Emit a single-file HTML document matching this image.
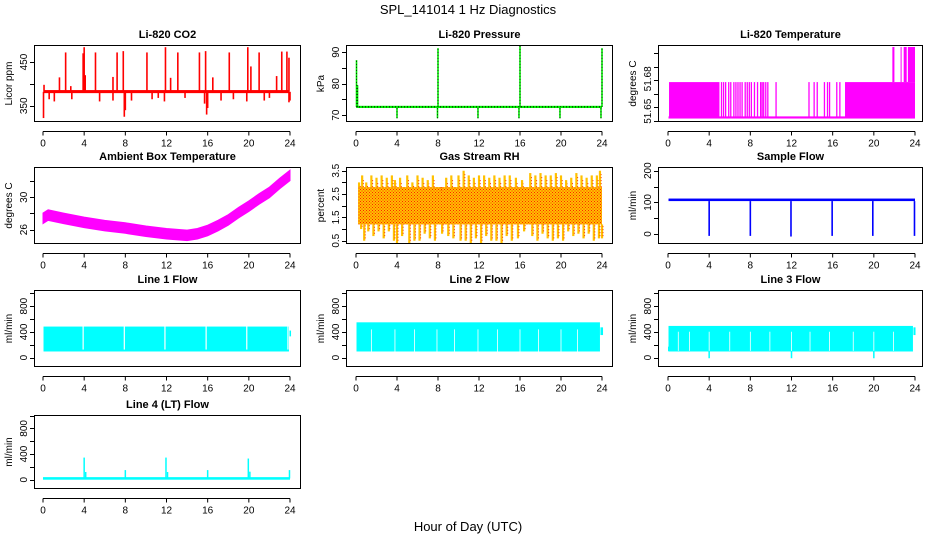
<!DOCTYPE html>
<html><head><meta charset="utf-8"><style>
html,body{margin:0;padding:0;background:#fff}
svg{display:block;font-family:"Liberation Sans",Arial,sans-serif}
</style></head><body>
<svg id="chart" width="936" height="540" viewBox="0 0 936 540">
<text x="468" y="14" text-anchor="middle" font-size="13">SPL_141014  1 Hz Diagnostics</text>
<text x="468" y="531" text-anchor="middle" font-size="13">Hour of Day (UTC)</text>
</svg>
<script>
// ---------- data ----------
const hourTicks = [0,4,8,12,16,20,24];
// CO2
const co2Base = 382;
const co2UpHours = [0.1,1.6,2.2,2.7,3.9,4.0,4.1,5.1,6.8,7.2,7.8,10.1,11.9,12.4,13.1,15.2,15.8,16.5,18.1,19.9,20.2,21.0,22.7,23.2,23.7,23.9];
const co2UpValues = [398,415,472,395,470,484,420,472,416,472,475,472,484,414,472,472,475,415,472,484,440,472,418,474,474,460];
const co2DownHours = [0.05,0.6,1.1,2.8,5.5,6.8,7.9,8.0,8.6,10.6,11.2,11.8,13.8,15.7,15.9,16.0,17.3,18.5,19.8,21.5,22.0,23.9,24.0];
const co2DownValues = [322,365,360,365,360,362,325,340,362,365,368,360,368,355,330,345,362,365,360,362,368,358,362];
// Pressure
const presBase = 72.6;
const presSpikeHours = [0.05,0.15,4.0,7.95,8.0,11.9,15.9,16.0,19.9,23.9,24.0];
const presSpikeLow = [72.6,72.6,69.0,69.0,72.6,69.0,69.0,72.6,69.0,69.0,72.6];
const presSpikeHigh = [87.5,79.5,72.6,72.6,91.3,72.6,72.6,92.0,72.6,72.6,91.3];
// Li-820 temperature
const tLow = 51.6462, tHigh = 51.6593, tTop = 51.6723;
const tBlockStart = [0.1,17.2];
const tBlockEnd = [5.0,24.0];
const tLineHours = [5.2,5.4,5.6,5.9,6.1,6.4,6.6,6.8,7.0,7.2,7.5,7.7,7.9,8.1,8.4,8.7,9.0,9.15,9.3,9.5,9.7,10.5,13.7,14.2,14.5,15.2,15.5,15.7,16.4,16.7];
const tTopStart = [21.8,22.6,22.9,23.3];
const tTopEnd = [22.0,22.7,23.2,24.0];
const tLabelValues = [51.6485,51.6605];
const tLabelText = ['51.65','51.68'];
// Ambient box temperature
const ambHours = [0,0.5,2,4,6,8,10,12,14,15,16,17,18,19,20,21,22,23,24];
const ambValues = [27.4,27.8,27.4,26.9,26.5,26.2,25.8,25.5,25.3,25.5,25.9,26.5,27.2,28.1,28.9,29.8,30.6,31.7,32.7];
// Gas stream RH
const rhHours = [0.3,0.6,1.0,1.5,2.0,2.5,3.0,3.5,3.8,4.3,5.0,5.5,6.0,6.5,7.0,7.5,8.2,8.8,9.3,10.0,10.5,11.0,11.5,12.0,12.5,13.0,13.5,14.0,14.5,15.0,15.6,16.2,17.0,17.5,18.0,18.5,19.0,19.5,20.0,20.5,21.0,21.5,22.0,22.5,23.0,23.5,23.8];
const rhMax = [3.0,3.3,3.0,3.3,3.2,3.3,3.2,3.3,3.1,3.2,3.3,3.0,3.3,3.2,3.1,3.3,2.8,3.2,3.3,3.3,3.5,3.3,3.2,3.3,3.3,3.2,3.3,3.2,3.3,3.3,3.2,3.1,3.4,3.3,3.4,3.3,3.3,3.4,3.3,3.1,3.2,3.4,3.3,3.2,3.3,3.3,3.5];
const rhMin = [1.0,0.5,0.9,0.7,0.9,0.6,0.9,0.5,0.4,0.7,0.4,0.5,0.5,0.8,0.6,0.5,0.8,0.7,0.6,0.5,0.5,0.4,0.6,0.4,0.7,0.5,0.5,0.4,0.7,0.5,0.6,0.9,0.7,0.5,0.8,0.6,0.5,0.6,0.5,0.9,0.7,0.8,0.6,0.8,0.5,0.6,0.6];
const rhCoreLow = 1.2, rhCoreHigh = 2.8;
// Sample flow
const sfLow = 104, sfHigh = 112;
const sfDipHours = [4.0,8.0,11.95,15.95,19.9,23.95];
const sfDipValues = [-6,-6,-8,-6,-6,-6];
// Line flows
const l1Low = 95, l1High = 482;
const l1GapHours = [3.9,7.9,11.85,15.85,19.8,23.8];
const l2Low = 95, l2High = 548;
const l2GapHours = [1.5,3.8,5.7,7.9,9.6,11.9,13.8,16.0,17.8,20.0,21.6];
const l3Low = 95, l3High = 492;
const l3GapHours = [1.0,2.1,4.0,6.0,8.0,9.9,12.0,13.8,15.7,18.0,20.0,21.9];
const l3DipHours = [4.0,12.0,20.0];
const l3DipValues = [-10,-10,-10];
// Line 4
const l4Base = 20;
const l4SpikeHours = [4.0,4.15,8.0,11.95,12.1,16.0,19.95,20.1,23.95];
const l4SpikeValues = [345,120,150,345,120,150,330,125,150];

// ---------- helpers ----------
const NS = 'http://www.w3.org/2000/svg';
const svg = document.getElementById('chart');
function mk(tag, attrs, parent){
  const e = document.createElementNS(NS, tag);
  for (const k in attrs) e.setAttribute(k, attrs[k]);
  parent.appendChild(e);
  return e;
}
const cols = [{l:34,r:301,x0:43,x1:290},{l:346,r:613,x0:356,x1:602},{l:658,r:923,x0:668,x1:915}];
const rows = [{t:45,b:122},{t:167,b:244},{t:290,b:367},{t:415,b:489}];

function panel(c, r, title, ylab, ymin, ymax, yticks, ylabels, name, labelVals){
  const C = cols[c], R = rows[r];
  const g = mk('g', {}, svg);
  
  
  const xs = h => C.x0 + (C.x1 - C.x0) * h / 24;
  const ys = v => R.b - (R.b - R.t) * (v - ymin) / (ymax - ymin);
  const clipId = 'clip' + c + r;
  const cp = mk('clipPath', {id: clipId}, g);
  mk('rect', {x: C.l, y: R.t, width: C.r - C.l, height: R.b - R.t}, cp);
  const marks = mk('g', {'clip-path': 'url(#' + clipId + ')'}, g);
  
  
  const t = mk('text', {x: (C.l + C.r) / 2, y: R.t - 7, 'text-anchor': 'middle', 'font-size': 11, 'font-weight': 'bold'}, g);
  t.textContent = title;
  
  
  const ax = mk('g', {stroke: '#000', 'stroke-width': 1, fill: 'none'}, g);
  
  
  const ay = R.b + 9.5;
  mk('line', {x1: xs(0), x2: xs(24), y1: ay, y2: ay}, ax);
  hourTicks.forEach(h => {
    mk('line', {x1: xs(h), x2: xs(h), y1: ay, y2: ay + 4}, ax);
    const tl = mk('text', {x: xs(h), y: ay + 15, 'text-anchor': 'middle', 'font-size': 10, fill: '#000', stroke: 'none'}, g);
    tl.textContent = h;
    
    
  });
  const yg = mk('g', {stroke: '#000', 'stroke-width': 1}, g);
  
  
  yticks.forEach((v, i) => {
    const y = Math.round(ys(v)) + 0.5;
    mk('line', {x1: C.l - 4, x2: C.l, y1: y, y2: y}, yg);
  });
  const lv = labelVals || yticks;
  lv.forEach((v, i) => {
    if (ylabels[i] !== '') {
      const tl = mk('text', {x: C.l - 7, y: ys(v), 'text-anchor': 'middle', 'font-size': 10, stroke: 'none', transform: 'rotate(-90 ' + (C.l - 7) + ' ' + ys(v) + ')'}, g);
      tl.textContent = ylabels[i];
      
      
    }
  });
  const yl = C.l - 22, ym = (R.t + R.b) / 2;
  const yt = mk('text', {x: yl, y: ym, 'text-anchor': 'middle', 'font-size': 10, transform: 'rotate(-90 ' + yl + ' ' + ym + ')'}, g);
  yt.textContent = ylab;
  
  
  const box = mk('rect', {x: C.l + 0.5, y: R.t + 0.5, width: C.r - C.l - 1, height: R.b - R.t - 1, fill: 'none', stroke: '#000'}, g);
  
  
  return {xs, ys, g: marks};
}
function vline(p, h, v1, v2, color, w, name){
  const l = mk('line', {x1: p.xs(h), x2: p.xs(h), y1: p.ys(v1), y2: p.ys(v2), stroke: color, 'stroke-width': w}, p.g);
  
  
  return l;
}
function band(p, h1, h2, v1, v2, color, name){
  const r = mk('rect', {x: p.xs(h1), y: p.ys(v2), width: p.xs(h2) - p.xs(h1), height: p.ys(v1) - p.ys(v2), fill: color}, p.g);
  
  
  return r;
}

// ---------- CO2 ----------
let p = panel(0, 0, 'Li-820 CO2', 'Licor ppm', 313, 489, [350,400,450], ['350','','450'], 'co2');
band(p, 0.05, 23.9, co2Base - 3, co2Base + 4, '#ff0000', 'co2-baseline');
co2UpHours.forEach((h, i) => vline(p, h, co2Base, co2UpValues[i], '#ff0000', 1.6, 'co2-spike-up'));
co2DownHours.forEach((h, i) => vline(p, h, co2Base, co2DownValues[i], '#ff0000', 1.6, 'co2-spike-down'));

// ---------- Pressure ----------
p = panel(1, 0, 'Li-820 Pressure', 'kPa', 67.8, 92.3, [70,75,80,85,90], ['70','','80','','90'], 'pressure');
band(p, 0.05, 24, presBase - 0.35, presBase + 0.35, '#00ee00', 'pressure-baseline');
let bl = mk('line', {x1: p.xs(0), x2: p.xs(24), y1: p.ys(presBase), y2: p.ys(presBase), stroke: '#000', 'stroke-width': 1, 'stroke-dasharray': '1 2'}, p.g);


presSpikeHours.forEach((h, i) => {
  vline(p, h, presSpikeLow[i], presSpikeHigh[i], '#00ee00', 1.6, 'pressure-spike');
  const d = vline(p, h, presSpikeLow[i], presSpikeHigh[i], '#000', 0.8, 'pressure-spike-dots');
  d.setAttribute('stroke-dasharray', '1 2');
});

// ---------- Li-820 Temperature ----------
p = panel(2, 0, 'Li-820 Temperature', 'degrees C', 51.64452, 51.67304, [51.645,51.65,51.655,51.66,51.665,51.67], tLabelText, 'li820-temperature', tLabelValues);
band(p, 0.05, 24, tLow - 0.0004, tLow + 0.0004, '#ff00ff', 'li820-temp-low-line');
tBlockStart.forEach((s, i) => band(p, s, tBlockEnd[i], tLow, tHigh, '#ff00ff', 'li820-temp-block'));
tLineHours.forEach(h => vline(p, h, tLow, tHigh, '#ff00ff', 1.3, 'li820-temp-toggle'));
tTopStart.forEach((s, i) => band(p, s, tTopEnd[i], tHigh, tTop, '#ff00ff', 'li820-temp-top'));
[22.2,22.8,23.25].forEach(h => vline(p, h, tHigh + 0.0003, tTop, '#ffffff', 0.8, 'li820-temp-top-gap'));

// ---------- Ambient ----------
p = panel(0, 1, 'Ambient Box Temperature', 'degrees C', 24.23, 33.74, [26,28,30,32], ['26','','30',''], 'ambient-temp');
{
  const up = ambHours.map((h, i) => p.xs(h) + ',' + p.ys(ambValues[i] + 0.65));
  const dn = ambHours.map((h, i) => p.xs(h) + ',' + p.ys(ambValues[i] - 0.65)).reverse();
  const poly = mk('polygon', {points: up.concat(dn).join(' '), fill: '#ff00ff', stroke: '#ff00ff', 'stroke-width': 1}, p.g);
  
  
}

// ---------- RH ----------
p = panel(1, 1, 'Gas Stream RH', 'percent', 0.36, 3.66, [0.5,1,1.5,2,2.5,3,3.5], ['0.5','','1.5','','2.5','','3.5'], 'rh');
{
  const defs = mk('defs', {}, svg);
  const pat = mk('pattern', {id: 'rhdots', width: 3, height: 3, patternUnits: 'userSpaceOnUse'}, defs);
  mk('rect', {x: 0, y: 0, width: 3, height: 3, fill: '#ffc000'}, pat);
  mk('rect', {x: 0, y: 0, width: 1, height: 1, fill: '#ff2200'}, pat);
  mk('rect', {x: 1.5, y: 1.5, width: 1, height: 1, fill: '#ff2200'}, pat);
  band(p, 0.2, 24, rhCoreLow, rhCoreHigh, 'url(#rhdots)', 'rh-core-band');
  rhHours.forEach((h, i) => {
    vline(p, h, rhCoreHigh, rhMax[i], '#ffc000', 2.2, 'rh-spike-up');
    vline(p, h + 0.12, rhCoreHigh, rhMax[i] - 0.15, '#ff3300', 1, 'rh-spike-up-dots').setAttribute('stroke-dasharray', '1 2');
    vline(p, h + 0.2, rhMin[i], rhCoreLow, '#ffc000', 2.2, 'rh-spike-down');
    vline(p, h + 0.3, rhMin[i] + 0.1, rhCoreLow, '#ff3300', 1, 'rh-spike-down-dots').setAttribute('stroke-dasharray', '1 2');
  });
}

// ---------- Sample flow ----------
p = panel(2, 1, 'Sample Flow', 'ml/min', -31.6, 211.7, [0,50,100,150,200], ['0','','100','','200'], 'sample-flow');
band(p, 0.05, 24, sfLow, sfHigh, '#0000ff', 'sample-flow-band');
sfDipHours.forEach((h, i) => vline(p, h, sfLow, sfDipValues[i], '#0000ff', 1.6, 'sample-flow-dip'));

// ---------- Line flows ----------
const flowTicks = [0,200,400,600,800,1000], flowLabels = ['0','','400','','800',''];
p = panel(0, 2, 'Line 1 Flow', 'ml/min', -146, 1050, flowTicks, flowLabels, 'line1-flow');
band(p, 0.05, 23.9, l1Low, l1High, '#00ffff', 'line1-flow-band');
l1GapHours.forEach(h => vline(p, h, l1Low + 30, l1High + 5, '#ffffff', 1.2, 'line1-flow-gap'));
band(p, 23.95, 24.1, 330, 420, '#00ffff', 'line1-flow-end');

p = panel(1, 2, 'Line 2 Flow', 'ml/min', -146, 1050, flowTicks, flowLabels, 'line2-flow');
band(p, 0.05, 23.8, l2Low, l2High, '#00ffff', 'line2-flow-band');
l2GapHours.forEach(h => vline(p, h, l2Low, l2High - 110, '#ffffff', 0.8, 'line2-flow-gap'));
band(p, 23.85, 24.1, 350, 470, '#00ffff', 'line2-flow-end');

p = panel(2, 2, 'Line 3 Flow', 'ml/min', -146, 1050, flowTicks, flowLabels, 'line3-flow');
band(p, 0.05, 23.8, l3Low, l3High, '#00ffff', 'line3-flow-band');
band(p, 0.0, 0.1, 100, 170, '#00ffff', 'line3-flow-start');
l3GapHours.forEach(h => vline(p, h, l3Low + 10, l3High - 90, '#ffffff', 0.8, 'line3-flow-gap'));
l3DipHours.forEach((h, i) => vline(p, h, l3Low, l3DipValues[i], '#00ffff', 1.5, 'line3-flow-dip'));
band(p, 23.85, 24.05, 350, 470, '#00ffff', 'line3-flow-end');

p = panel(0, 3, 'Line 4 (LT) Flow', 'ml/min', -145, 1009, flowTicks, flowLabels, 'line4-flow');
band(p, 0.0, 24.0, l4Base - 20, l4Base + 20, '#00ffff', 'line4-flow-baseline');
l4SpikeHours.forEach((h, i) => vline(p, h, l4Base, l4SpikeValues[i], '#00ffff', 1.5, 'line4-flow-spike'));
</script>
</body></html>
